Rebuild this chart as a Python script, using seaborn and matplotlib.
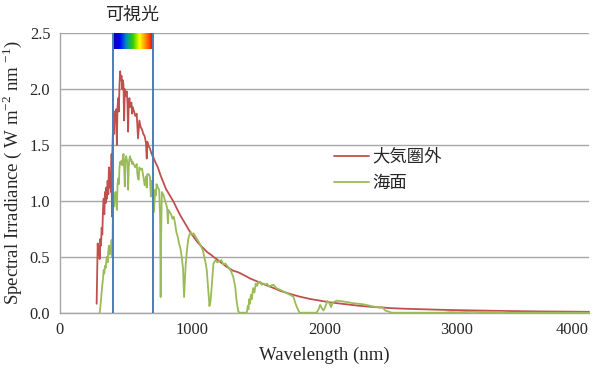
import numpy as np
import pandas as pd
import matplotlib
matplotlib.use("Agg")
import matplotlib.pyplot as plt
from matplotlib.colors import LinearSegmentedColormap
import seaborn as sns

# spectral irradiance (W m-2 nm-1)
wl_space = [277, 282, 285, 290, 295, 300, 305, 310, 315, 320,
            325, 330, 335, 340, 345, 350, 355, 360, 365, 370,
            375, 380, 385, 390, 393, 396, 400, 405, 410, 415,
            420, 425, 430, 435, 440, 445, 450, 455, 460, 465,
            470, 475, 480, 485, 490, 495, 500, 505, 510, 515,
            520, 525, 530, 540, 545, 550, 560, 570, 580, 590,
            600, 610, 620, 630, 640, 650, 656, 660, 670, 680,
            690, 700, 710, 720, 740, 760, 780, 800, 830, 860,
            880, 910, 940, 960, 990, 1010, 1040, 1060, 1090, 1110,
            1140, 1160, 1190, 1210, 1240, 1260, 1290, 1310, 1340, 1360,
            1400, 1440, 1500, 1550, 1600, 1660, 1740, 1815, 1890, 1970,
            2040, 2120, 2200, 2270, 2350, 2420, 2500, 2570, 2650, 2720,
            2820, 2950, 3080, 3200, 3330, 3450, 3580, 3700, 3850, 4000]
irr_space = [0.08, 0.45, 0.62, 0.52, 0.60, 0.48, 0.66, 0.60, 0.76, 0.70,
             0.92, 1.02, 0.88, 1.08, 0.98, 1.12, 1.02, 1.18, 1.06, 1.30,
             1.12, 1.26, 1.08, 1.42, 0.86, 1.45, 1.62, 1.78, 1.60, 1.80,
             1.74, 1.82, 1.50, 1.84, 1.92, 1.80, 2.05, 2.16, 2.08, 2.12,
             2.00, 2.08, 2.04, 1.72, 2.00, 1.94, 1.96, 1.98, 1.88, 1.62,
             1.88, 1.92, 1.84, 1.88, 1.78, 1.84, 1.80, 1.76, 1.78, 1.56,
             1.72, 1.66, 1.64, 1.60, 1.58, 1.52, 1.38, 1.53, 1.49, 1.47,
             1.43, 1.40, 1.38, 1.35, 1.30, 1.23, 1.17, 1.11, 1.05, 0.99,
             0.94, 0.87, 0.81, 0.77, 0.71, 0.68, 0.63, 0.605, 0.57, 0.545,
             0.52, 0.50, 0.475, 0.455, 0.43, 0.41, 0.39, 0.375, 0.365, 0.355,
             0.33, 0.305, 0.275, 0.25, 0.228, 0.198, 0.168, 0.143, 0.123, 0.107,
             0.093, 0.081, 0.070, 0.061, 0.053, 0.047, 0.041, 0.037, 0.034, 0.031,
             0.028, 0.024, 0.021, 0.018, 0.016, 0.014, 0.012, 0.011, 0.009, 0.008]

wl_sea = [300, 305, 310, 315, 320, 325, 330, 335, 340, 345,
          350, 355, 360, 365, 370, 375, 380, 385, 390, 393,
          397, 400, 405, 410, 415, 420, 425, 430, 435, 440,
          445, 450, 455, 460, 465, 470, 475, 480, 485, 490,
          495, 500, 505, 510, 515, 520, 525, 530, 535, 540,
          545, 550, 560, 570, 580, 585, 590, 595, 600, 610,
          620, 630, 640, 650, 656, 660, 670, 680, 687, 690,
          700, 710, 720, 725, 730, 740, 750, 757, 761, 765,
          770, 780, 790, 800, 810, 816, 820, 830, 840, 850,
          860, 870, 880, 890, 900, 910, 920, 930, 938, 945,
          950, 960, 970, 980, 990, 1000, 1010, 1020, 1040, 1060,
          1080, 1100, 1110, 1120, 1130, 1138, 1147, 1160, 1175, 1190,
          1200, 1220, 1235, 1250, 1270, 1290, 1310, 1325, 1335, 1348,
          1360, 1412, 1420, 1425, 1430, 1437, 1443, 1450, 1460, 1470,
          1480, 1490, 1500, 1513, 1525, 1540, 1555, 1565, 1580, 1600,
          1615, 1635, 1664, 1690, 1715, 1740, 1765, 1780, 1795, 1811,
          1940, 1955, 1967, 1980, 1992, 2005, 2022, 2037, 2050, 2062,
          2093, 2143, 2219, 2295, 2370, 2420, 2440, 2458, 2483, 2509,
          2900, 2950, 3000, 3100, 3200, 3330, 3400, 3600, 3800, 4000]
irr_sea = [0.00, 0.05, 0.12, 0.20, 0.25, 0.30, 0.38, 0.35, 0.42, 0.40,
           0.46, 0.50, 0.45, 0.55, 0.60, 0.52, 0.58, 0.55, 0.65, 0.50,
           0.60, 0.92, 1.00, 0.95, 1.05, 1.08, 1.02, 0.92, 1.15, 1.20,
           1.15, 1.30, 1.35, 1.33, 1.36, 1.32, 1.38, 1.42, 1.30, 1.13,
           1.36, 1.40, 1.37, 1.34, 1.10, 1.30, 1.38, 1.40, 1.36, 1.37,
           1.33, 1.35, 1.32, 1.30, 1.33, 1.24, 1.20, 1.19, 1.30, 1.28,
           1.29, 1.22, 1.14, 1.22, 1.12, 1.24, 1.24, 1.22, 1.04, 1.18,
           1.15, 0.90, 1.10, 1.05, 1.15, 1.12, 1.10, 0.85, 0.14, 0.70,
           1.08, 1.06, 1.02, 0.98, 0.94, 0.80, 0.92, 0.90, 0.88, 0.84,
           0.86, 0.80, 0.72, 0.68, 0.62, 0.58, 0.50, 0.40, 0.14, 0.30,
           0.42, 0.56, 0.66, 0.70, 0.72, 0.70, 0.71, 0.69, 0.65, 0.61,
           0.56, 0.45, 0.38, 0.22, 0.06, 0.10, 0.23, 0.44, 0.47, 0.45,
           0.46, 0.47, 0.43, 0.44, 0.41, 0.38, 0.32, 0.23, 0.11, 0.01,
           0.00, 0.00, 0.06, 0.03, 0.12, 0.08, 0.16, 0.12, 0.22, 0.18,
           0.26, 0.24, 0.27, 0.278, 0.25, 0.26, 0.25, 0.26, 0.235, 0.245,
           0.25, 0.22, 0.205, 0.19, 0.175, 0.16, 0.143, 0.085, 0.04, 0.00,
           0.00, 0.03, 0.07, 0.04, 0.02, 0.05, 0.105, 0.085, 0.05, 0.09,
           0.108, 0.10, 0.085, 0.075, 0.055, 0.045, 0.05, 0.02, 0.01, 0.00,
           0.00, 0.005, 0.003, 0.008, 0.005, 0.006, 0.00, 0.00, 0.00, 0.00]

series_names = ["大気圏外", "海面"]
visible_range = [400, 700]
visible_label = "可視光"
x_ticks = [0, 1000, 2000, 3000, 4000]
y_ticks = [0.0, 0.5, 1.0, 1.5, 2.0, 2.5]

RED, GREEN, BLUE, GRAY = "#c0504d", "#9bbb59", "#4a7ebb", "#a6a6a6"
CJK = "Noto Sans CJK JP"

sns.set_style("white")
plt.rcParams["font.family"] = ["Liberation Serif", CJK]
plt.rcParams["mathtext.fontset"] = "custom"
plt.rcParams["mathtext.rm"] = "Liberation Serif"

df = pd.concat([
    pd.DataFrame({"wl": wl_space, "irr": irr_space, "series": series_names[0]}),
    pd.DataFrame({"wl": wl_sea, "irr": irr_sea, "series": series_names[1]}),
], ignore_index=True)

fig, ax = plt.subplots(figsize=(5.95, 3.72), dpi=100)
fig.subplots_adjust(left=60/595, right=589/595, bottom=1-312.7/372, top=1-33.3/372)

sns.lineplot(data=df, x="wl", y="irr", hue="series", hue_order=series_names,
             palette=[RED, GREEN], estimator=None, sort=False, linewidth=1.3,
             ax=ax, clip_on=False, zorder=3)

# visible band: rainbow strip + blue edges
cmap = LinearSegmentedColormap.from_list(
    "vis", ["#1a00a0", "#0000ff", "#0090c0", "#30d000", "#ffff00", "#ff8000", "#ff0000"])
ax.imshow(np.linspace(0, 1, 256)[None, :], extent=(visible_range[0], visible_range[1], 2.36, 2.5),
          aspect="auto", cmap=cmap, zorder=3)
ax.vlines(visible_range, 0, 2.5, color=BLUE, lw=1.4, zorder=4)
ax.text(sum(visible_range) / 2, 2.58, visible_label, ha="center", va="bottom",
        fontsize=13, family=[CJK], clip_on=False)

ax.set_xlim(0, 4000)
ax.set_ylim(0, 2.5)
ax.set_xticks(x_ticks)
ax.set_yticks(y_ticks)
ax.yaxis.set_major_formatter(matplotlib.ticker.FormatStrFormatter("%.1f"))
ax.yaxis.grid(True, color=GRAY, lw=1)
ax.xaxis.grid(False)
ax.set_axisbelow(True)
for s in ["top", "right"]:
    ax.spines[s].set_visible(False)
for s in ["left", "bottom"]:
    ax.spines[s].set_color(GRAY)
    ax.spines[s].set_linewidth(1)
ax.tick_params(direction="out", length=5, width=1, color=GRAY, labelsize=11.8, pad=2)
# last x label sits inside the plot edge, like the reference
ax.get_xticklabels()[-1].set_horizontalalignment("right")

ax.set_xlabel("Wavelength (nm)", fontsize=13.5, labelpad=6)
ax.set_ylabel("Spectral Irradiance ( W m$^{-2}$ nm $^{-1}$)", fontsize=13.5, labelpad=4)

ax.legend(frameon=False, loc="upper left", bbox_to_anchor=(0.518, 0.59),
          prop=dict(family=[CJK], size=12.5), handlelength=2.0, handletextpad=0.2,
          labelspacing=0.45, borderpad=0, borderaxespad=0)

fig.savefig("out.png", dpi=100)
